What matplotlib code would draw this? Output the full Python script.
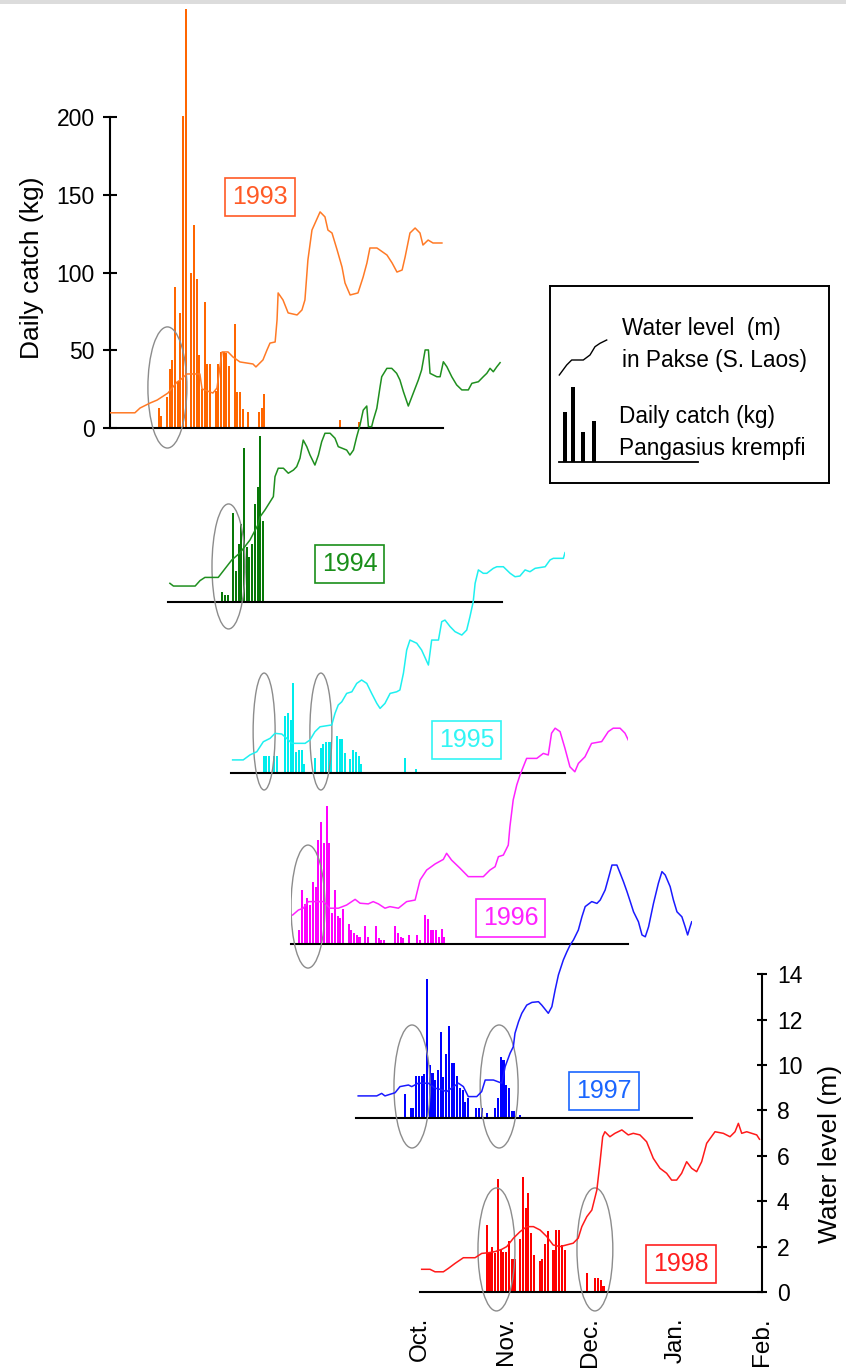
import matplotlib as mpl
mpl.use('Agg')
import matplotlib.pyplot as plt
from matplotlib.patches import Ellipse, Rectangle

mpl.rcParams['font.family'] = ['Liberation Sans', 'DejaVu Sans']

# ---- data (day 0 = 1 October, catch in kg, water level in m) ----
years = [1993, 1994, 1995, 1996, 1997, 1998]
month_days = [0, 31, 61, 92, 123]
month_labels = ['Oct.', 'Nov.', 'Dec.', 'Jan.', 'Feb.']
catch_ticks = [0, 50, 100, 150, 200]
level_ticks = [0, 2, 4, 6, 8, 10, 12, 14]

catch_day_1993 = [18, 19, 21, 22, 23, 24, 25, 26, 27, 28, 30, 31, 32, 33, 34, 35, 36, 37,
                  39, 40, 41, 42, 43, 44, 46, 47, 48, 49, 51, 55, 56, 57, 85, 92]
catch_kg_1993 = [13, 8, 20, 38, 44, 91, 30, 74, 201, 270, 100, 131, 96, 47, 25, 81, 41, 41,
                 24, 41, 49, 49, 48, 40, 67, 23, 23, 12, 10, 10, 13, 22, 5, 4]
level_day_1993 = [0, 9.2, 11.1, 14.8, 17.4, 21.4, 24.8, 25.9, 28.4, 33.2, 34, 38, 39.5, 41.4,
                  43.6, 45.4, 48, 52.8, 53.9, 56.5, 58, 59.1, 61, 61.7, 62.1, 63.9, 65.8, 69.1,
                  70.9, 72, 73.1, 74.6, 77.6, 79.4, 80.5, 82, 83.9, 85.7, 86.8, 88.7, 91.6, 93.5,
                  94.9, 96, 98.6, 102.3, 104.2, 106, 107.9, 109, 110.8, 112.7, 114.5, 115.6,
                  117.5, 119.3, 122.6]
level_m_1993 = [0.67, 0.67, 0.88, 1.10, 1.23, 1.54, 2.03, 2.11, 2.38, 2.38, 1.72, 1.54, 1.76,
                3.35, 3.35, 3.13, 2.91, 2.82, 2.69, 3.0, 3.44, 3.74, 3.79, 4.76, 5.95, 5.64, 5.07,
                4.98, 5.2, 5.64, 7.4, 8.72, 9.52, 9.3, 8.72, 8.59, 7.84, 7.09, 6.39, 5.86, 5.95,
                6.65, 7.27, 7.93, 7.93, 7.62, 7.27, 6.87, 6.96, 7.53, 8.59, 8.81, 8.59, 8.06,
                8.28, 8.15, 8.15]

catch_day_1994 = [20, 21, 22, 24, 25, 26, 27, 28, 29, 30, 31, 32, 33, 34, 35]
catch_kg_1994 = [6, 4, 4, 57, 20, 37, 50, 99, 35, 29, 37, 63, 74, 107, 52]
level_day_1994 = [0.7, 2, 10, 11.8, 13.6, 18.5, 23.5, 26.5, 30.2, 33.1, 33.9, 35.7, 38.8, 39.4,
                  40.6, 42.5, 44.3, 46.2, 47.4, 48.6, 49.8, 51.1, 52.3, 54.1, 55.4, 56.6, 57.8,
                  59.7, 61.5, 62.7, 65.8, 67, 68.3, 69.5, 70.7, 71.9, 73.2, 73.8, 75, 75.6, 76.9,
                  78.1, 78.7, 80.6, 82.4, 84.2, 85.4, 86.7, 88.5, 90.3, 92.2, 93.4, 94.7, 95.9,
                  96.5, 99, 100.2, 101.4, 102.7, 104.5, 106.3, 108.2, 110.6, 111.9, 114.3, 116.1,
                  117.4, 118.6, 119.8, 121.1, 122.3]
level_m_1994 = [0.81, 0.69, 0.69, 0.93, 1.07, 1.07, 1.84, 2.15, 2.72, 3.38, 3.74, 4.04, 4.63,
                5.51, 5.88, 5.88, 5.66, 5.80, 5.95, 6.32, 7.12, 6.83, 6.46, 6.02, 6.46, 7.05, 7.42,
                7.42, 7.2, 6.83, 6.68, 6.46, 6.68, 7.27, 7.78, 8.44, 8.62, 7.71, 7.71, 8.0, 8.52,
                9.47, 9.91, 10.28, 10.28, 10.06, 9.77, 9.25, 8.62, 9.18, 9.77, 10.21, 11.09,
                11.09, 10.06, 9.91, 9.91, 10.57, 10.35, 9.91, 9.55, 9.33, 9.33, 9.62, 9.69, 9.91,
                10.06, 10.28, 10.13, 10.35, 10.53]

catch_day_1995 = [12, 13, 14, 16, 17, 20, 21, 22, 23, 24, 25, 26, 27, 31, 33, 34, 35, 36, 37,
                  39, 40, 41, 42, 44, 45, 46, 47, 48, 64, 68]
catch_kg_1995 = [11, 11, 11, 11, 11, 37, 39, 34, 58, 14, 15, 15, 6, 10, 16, 19, 20, 20, 20,
                 24, 22, 22, 13, 9, 15, 14, 11, 6, 10, 3]
level_day_1995 = [0.6, 4.5, 7, 9.5, 11.9, 14.4, 16.2, 18.7, 20.5, 22.4, 27.3, 29.1, 30.9, 32.8,
                  37.1, 38.3, 39.5, 40.8, 42.6, 44.5, 46.3, 48.1, 50, 51.8, 53.7, 54.9, 56.7, 58.6,
                  61, 62.2, 63.5, 64.7, 65.9, 68.4, 70.2, 72.7, 73.9, 76.4, 77.6, 78.8, 80.7, 82.5,
                  85, 86.8, 88, 89.2, 89.9, 91.1, 92.9, 94.2, 96.6, 97.9, 100.3, 102.8, 104.6,
                  106.4, 108.3, 110.1, 112, 115.7, 117.5, 118.7, 122.4, 123]
level_m_1995 = [0.59, 0.59, 0.81, 0.95, 1.39, 1.54, 1.76, 1.73, 1.54, 1.32, 1.32, 1.47, 1.83,
                2.05, 2.13, 2.64, 3.01, 3.15, 3.52, 3.59, 3.96, 4.11, 3.96, 3.52, 3.08, 2.86, 3.08,
                3.52, 3.59, 3.67, 4.41, 5.43, 5.87, 5.73, 5.43, 4.77, 5.87, 5.87, 6.68, 6.75, 6.46,
                6.24, 6.09, 6.31, 6.90, 7.56, 8.37, 8.96, 8.81, 8.81, 9.03, 9.10, 9.10, 8.81, 8.66,
                8.69, 8.96, 8.88, 9.03, 9.10, 9.40, 9.47, 9.47, 9.72]

catch_day_1996 = [3, 4, 5, 6, 7, 8, 9, 10, 11, 12, 13, 14, 15, 16, 17, 18, 19, 21, 22, 23, 24,
                  25, 27, 28, 31, 32, 33, 34, 38, 39, 40, 41, 43, 46, 47, 49, 50, 51, 52, 53, 54,
                  55, 56]
catch_kg_1996 = [9, 35, 26, 30, 25, 40, 37, 67, 79, 65, 89, 65, 20, 35, 18, 17, 23, 13, 9, 7, 6,
                 5, 12, 5, 12, 4, 3, 3, 12, 7, 5, 4, 6, 6, 3, 19, 16, 9, 9, 9, 5, 10, 5]
level_day_1996 = [0.6, 2.7, 4.5, 6.3, 11.8, 14.2, 17.3, 20.3, 23.4, 25.2, 28.2, 30, 31.9, 34.3,
                  36.1, 39.2, 42.2, 45.3, 47.1, 49.5, 52.6, 55.6, 56.8, 58.6, 61.7, 64.7, 66.5,
                  70.2, 72.6, 74.5, 75.7, 77.5, 79.3, 79.9, 81.1, 82.4, 83.6, 86, 89.7, 92.1, 93.9,
                  95.1, 96.4, 98.2, 100, 101.8, 103.6, 104.9, 107.3, 109.7, 113.4, 115.8, 117.6,
                  120.1, 121.9, 123.1]
level_m_1996 = [1.29, 1.51, 1.59, 1.88, 1.88, 1.59, 1.59, 1.73, 1.98, 1.81, 1.78, 1.88, 1.78,
                1.59, 1.66, 1.59, 1.88, 1.95, 2.83, 3.27, 3.54, 3.74, 4.01, 3.71, 3.35, 2.98, 2.98,
                2.98, 3.27, 3.42, 3.86, 3.93, 4.37, 5.18, 6.36, 7.02, 7.46, 8.19, 8.19, 8.41, 8.34,
                9.30, 9.52, 9.37, 8.63, 7.82, 7.60, 7.97, 8.26, 8.85, 8.93, 9.37, 9.52, 9.52, 9.30,
                9.0]

catch_day_1997 = [18, 20, 21, 22, 23, 24, 25, 26, 27, 28, 29, 30, 31, 32, 33, 34, 35, 36, 37,
                  38, 39, 40, 41, 44, 45, 46, 48, 51, 52, 53, 54, 55, 56, 57, 58, 60]
catch_kg_1997 = [15, 6, 6, 27, 27, 27, 28, 89, 34, 29, 24, 31, 55, 26, 41, 59, 35, 35, 27, 19,
                 18, 10, 13, 6, 6, 6, 3, 6, 13, 39, 37, 21, 19, 4, 4, 2]
level_day_1997 = [0.8, 7.6, 9.4, 10.6, 14.3, 16.1, 19.2, 20.4, 22.8, 26.5, 28.9, 30.8, 33.2,
                  37.5, 39.3, 41.1, 44.2, 46, 47.3, 50.3, 53.4, 54.6, 56.4, 57.6, 58.2, 59.5, 60.7,
                  62.5, 64.4, 66.8, 68, 70.4, 71.7, 72.9, 74.1, 75.9, 77.2, 78.4, 79.6, 81.4, 82.7,
                  83.9, 86.3, 88.2, 89.4, 91.2, 92.4, 93.7, 95.5, 96.7, 97.9, 99.2, 100.4, 101.6,
                  103.4, 104.7, 105.9, 107.1, 108.9, 110.7, 112, 113.2, 115, 116.2, 117.5, 119.3,
                  120.5, 121.4, 122.3, 122.9]
level_m_1997 = [0.96, 0.96, 1.07, 0.96, 1.10, 1.37, 1.44, 1.37, 1.52, 1.52, 1.30, 1.25, 1.15,
                1.52, 1.37, 0.93, 0.93, 1.15, 1.66, 1.66, 1.52, 2.25, 2.84, 3.13, 3.72, 4.23, 4.60,
                4.96, 5.08, 5.11, 4.96, 4.60, 4.89, 5.63, 6.29, 6.95, 7.31, 7.61, 7.83, 8.27, 8.85,
                9.30, 9.52, 9.44, 9.59, 10.03, 10.55, 11.13, 11.13, 10.77, 10.40, 9.96, 9.52, 9.07,
                8.63, 8.05, 7.97, 8.41, 9.44, 10.33, 10.84, 10.69, 10.18, 9.59, 9.07, 8.85, 8.41,
                8.05, 8.41, 8.63]

catch_day_1998 = [24, 25, 26, 27, 28, 29, 30, 31, 32, 33, 34, 36, 37, 38, 39, 40, 41, 43, 44,
                  45, 46, 48, 49, 50, 51, 52, 60, 63, 64, 65, 66]
catch_kg_1998 = [43, 25, 29, 25, 73, 27, 26, 26, 33, 21, 21, 34, 74, 54, 64, 38, 24, 20, 21,
                 31, 39, 27, 40, 40, 30, 27, 12, 9, 9, 8, 4]
level_day_1998 = [0.6, 3.6, 5.4, 8.4, 10.2, 12.6, 14.4, 15.6, 19.8, 22.2, 24.6, 27, 29.4, 31.2,
                  33.6, 36, 38.4, 40.8, 43.2, 45.6, 47.9, 50.4, 55.1, 56.9, 58.2, 60, 61.8, 63.6,
                  64.7, 65.7, 66.5, 68.3, 70.1, 72.6, 74.9, 76.7, 79.1, 81.5, 83.9, 86.3, 88.7,
                  90.5, 92.3, 94.1, 95.9, 97.7, 99.5, 101.3, 103.1, 106.1, 109.1, 111.5, 113.3,
                  114.5, 115.7, 117.5, 119.3, 121.1, 122.1]
level_m_1998 = [1.0, 1.0, 0.89, 0.89, 1.04, 1.26, 1.41, 1.51, 1.51, 1.70, 1.73, 1.78, 1.88, 2.0,
                2.37, 2.66, 2.88, 2.88, 2.73, 2.44, 2.07, 2.0, 2.15, 2.37, 2.88, 3.32, 3.61, 4.49,
                5.67, 6.84, 7.06, 6.84, 6.99, 7.14, 6.92, 6.99, 6.92, 6.62, 5.89, 5.45, 5.23, 4.93,
                4.93, 5.23, 5.74, 5.45, 5.30, 5.74, 6.55, 7.06, 6.99, 6.84, 7.06, 7.43, 6.99, 7.06,
                6.99, 6.92, 6.73]

catch_days = [catch_day_1993, catch_day_1994, catch_day_1995, catch_day_1996, catch_day_1997, catch_day_1998]
catch_kgs = [catch_kg_1993, catch_kg_1994, catch_kg_1995, catch_kg_1996, catch_kg_1997, catch_kg_1998]
level_days = [level_day_1993, level_day_1994, level_day_1995, level_day_1996, level_day_1997, level_day_1998]
level_ms = [level_m_1993, level_m_1994, level_m_1995, level_m_1996, level_m_1997, level_m_1998]

# legend glyph (in legend-box pixel units)
legend_bar_x = [15, 23, 33, 44]
legend_bar_h = [50, 75, 30, 41]
legend_line_x = [9.3, 16.7, 21.7, 33.3, 40, 45, 50, 56.7]
legend_line_y = [108, 118, 123, 123, 128, 136.3, 139.7, 143]

# ---- styling / layout ----
bar_colours = ['#ff6600', '#087808', '#00ecec', '#ff00ff', '#0000ff', '#ff0000']
line_colours = ['#ff7a26', '#1f8f1f', '#1ef0f0', '#ff22ff', '#1a1aff', '#ff1a1a']
box_colours = ['#ff5a26', '#1a8f1a', '#33f5f5', '#ff22ff', '#1a66ff', '#ff2020']
season_len = 123

W, H = 846, 1371
panel_left = [110, 168, 231, 291, 356, 420]
panel_right = [443, 502, 565, 628, 692, 762]
panel_base = [428, 601.7, 773.3, 944.3, 1117.7, 1292]
px_per_kg = 1.553
px_per_m = 22.7
below, above = 40, 440

# year box (day, kg) and highlight ellipses (day, kg, width days, height kg)
year_label_pos = [(55.4, 149), (66.9, 24.3), (86.7, 21.4), (80.1, 16.9), (90.8, 17.2), (93.9, 18.0)]
ellipses = [
    [(21.2, 26.1, 14.4, 78)],
    [(22.3, 22.7, 12.2, 80.5)],
    [(12.2, 26.9, 8.1, 75.3), (33.1, 26.9, 8.1, 75.3)],
    [(6.2, 24.3, 12.4, 79.2)],
    [(20.5, 20.1, 13.2, 79.2), (52.4, 20.1, 13.9, 79.2)],
    [(27.5, 27.4, 13.3, 79.2), (62.9, 27.4, 12.9, 79.2)],
]


def px_rect(x0, x1, top, bottom):
    return [x0 / W, 1 - bottom / H, (x1 - x0) / W, (bottom - top) / H]


fig = plt.figure(figsize=(W / 100, H / 100), dpi=100)
fig.add_artist(Rectangle((0, 1 - 4 / H), 1, 4 / H, transform=fig.transFigure,
                         color='#dcdcdc', lw=0))

n = len(years)
for i, yr in enumerate(years):
    base = panel_base[i]
    ax = fig.add_axes(px_rect(panel_left[i], panel_right[i], base - above, base + below))
    ax.patch.set_visible(False)
    ax.set_xlim(0, season_len)
    ax.set_ylim(-below / px_per_kg, above / px_per_kg)
    wl = ax.twinx()
    wl.set_ylim(-below / px_per_m, above / px_per_m)

    for s in list(ax.spines.values()) + list(wl.spines.values()):
        s.set_visible(False)
    ax.spines['bottom'].set_visible(True)
    ax.spines['bottom'].set_position(('data', 0))
    ax.spines['bottom'].set_bounds(0, season_len)
    ax.spines['bottom'].set_linewidth(1.5)

    ax.bar(catch_days[i], catch_kgs[i], width=0.75, color=bar_colours[i], lw=0, zorder=2)
    wl.plot(level_days[i], level_ms[i], color=line_colours[i], lw=1.1)

    for (cx, cy, ew, eh) in ellipses[i]:
        ax.add_patch(Ellipse((cx, cy), ew, eh, fill=False, ec='#8c8c8c', lw=1.0, zorder=3))

    lx, ly = year_label_pos[i]
    ax.text(lx, ly, str(yr), color=box_colours[i], fontsize=18, ha='center', va='center',
            bbox=dict(boxstyle='square,pad=0.28', fc='white', ec=box_colours[i], lw=1.2))

    if i == 0:
        ax.spines['left'].set_visible(True)
        ax.spines['left'].set_bounds(0, 200)
        ax.spines['left'].set_linewidth(1.5)
        ax.set_yticks(catch_ticks)
        ax.tick_params(axis='y', direction='inout', length=10, width=1.5, labelsize=16.5, pad=6)
    else:
        ax.set_yticks([])

    if i == n - 1:
        ax.set_xticks(month_days, month_labels, rotation=90)
        ax.tick_params(axis='x', length=0, pad=18, labelsize=17.5)
        wl.spines['right'].set_visible(True)
        wl.spines['right'].set_bounds(0, 14)
        wl.spines['right'].set_linewidth(1.5)
        wl.set_yticks(level_ticks)
        wl.tick_params(axis='y', direction='inout', length=7.5, width=1.5, labelsize=16.5, pad=7)
    else:
        ax.set_xticks([])
        wl.set_yticks([])

fig.text(32.5 / W, 1 - 268 / H, 'Daily catch (kg)', rotation=90, ha='center', va='center',
         fontsize=19)
fig.text(830 / W, 1 - 1154 / H, 'Water level (m)', rotation=90, ha='center', va='center',
         fontsize=19)

# legend box
lax = fig.add_axes(px_rect(550, 829, 286, 483))
lax.set_xlim(0, 279)
lax.set_ylim(0, 197)
lax.set_xticks([])
lax.set_yticks([])
for s in lax.spines.values():
    s.set_linewidth(1.4)
lax.bar(legend_bar_x, legend_bar_h, width=3.5, bottom=21, color='black')
lax.plot([9, 148], [21, 21], color='black', lw=1.3)
lax.plot(legend_line_x, legend_line_y, color='black', lw=1)
lax.text(72, 155, 'Water level  (m)', fontsize=16.3, va='center')
lax.text(72, 123, 'in Pakse (S. Laos)', fontsize=16.3, va='center')
lax.text(69, 66, 'Daily catch (kg)', fontsize=16.3, va='center')
lax.text(69, 35, 'Pangasius krempfi', fontsize=16.3, va='center')

fig.savefig('out.png', dpi=100)
